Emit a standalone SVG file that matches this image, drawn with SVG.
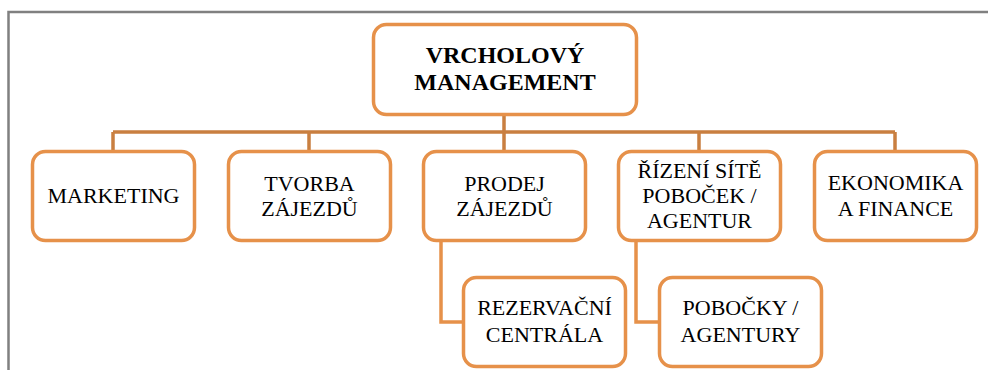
<svg xmlns="http://www.w3.org/2000/svg" width="988" height="370" viewBox="0 0 988 370">
<style>
.box{fill:#fff;stroke:#E6914A;stroke-width:3.5}
.bus{fill:none;stroke:#C97F40;stroke-width:3.5}
.sub{fill:none;stroke:#E6914A;stroke-width:3.5}
text{font-family:'Liberation Serif','Times New Roman',serif;font-size:22px;fill:#000;text-anchor:middle}
.b{font-weight:bold;font-size:24px}
</style>
<rect width="988" height="370" fill="#fff"/>
<path d="M8.5 370 V12 H988" fill="none" stroke="#808080" stroke-width="2.5"/>
<g id="connectors">
<path class="bus" d="M504 115 V132 M113 132 H895 M113 132 V151 M309 132 V151 M504 132 V151 M699 132 V151 M895 132 V151"/>
<path class="sub" d="M441 241 V322 H463 M636 241 V322 H659"/>
</g>
<g id="top"><rect class="box" x="373.5" y="24.5" width="263" height="90" rx="13"/>
<text class="b" x="505" y="63">VRCHOLOVÝ</text><text class="b" x="505" y="90">MANAGEMENT</text></g>
<g id="marketing"><rect class="box" x="32.5" y="151.5" width="162" height="89" rx="13"/>
<text x="113.5" y="203">MARKETING</text></g>
<g id="tvorba"><rect class="box" x="228.5" y="151.5" width="162" height="89" rx="13"/>
<text x="309.5" y="191">TVORBA</text><text x="309.5" y="216">ZÁJEZDŮ</text></g>
<g id="prodej"><rect class="box" x="423.5" y="151.5" width="162" height="89" rx="13"/>
<text x="504.5" y="191">PRODEJ</text><text x="504.5" y="216">ZÁJEZDŮ</text></g>
<g id="rizeni"><rect class="box" x="618.5" y="151.5" width="162" height="89" rx="13"/>
<text x="699.5" y="178">ŘÍZENÍ SÍTĚ</text><text x="699.5" y="203">POBOČEK /</text><text x="699.5" y="228">AGENTUR</text></g>
<g id="ekonomika"><rect class="box" x="814.5" y="151.5" width="162" height="89" rx="13"/>
<text x="895.5" y="190">EKONOMIKA</text><text x="895.5" y="216">A FINANCE</text></g>
<g id="rezervacni"><rect class="box" x="463.5" y="277.5" width="162" height="89" rx="13"/>
<text x="544.5" y="315">REZERVAČNÍ</text><text x="544.5" y="342">CENTRÁLA</text></g>
<g id="pobocky"><rect class="box" x="659.5" y="277.5" width="162" height="89" rx="13"/>
<text x="740.5" y="315">POBOČKY /</text><text x="740.5" y="342">AGENTURY</text></g>
</svg>
